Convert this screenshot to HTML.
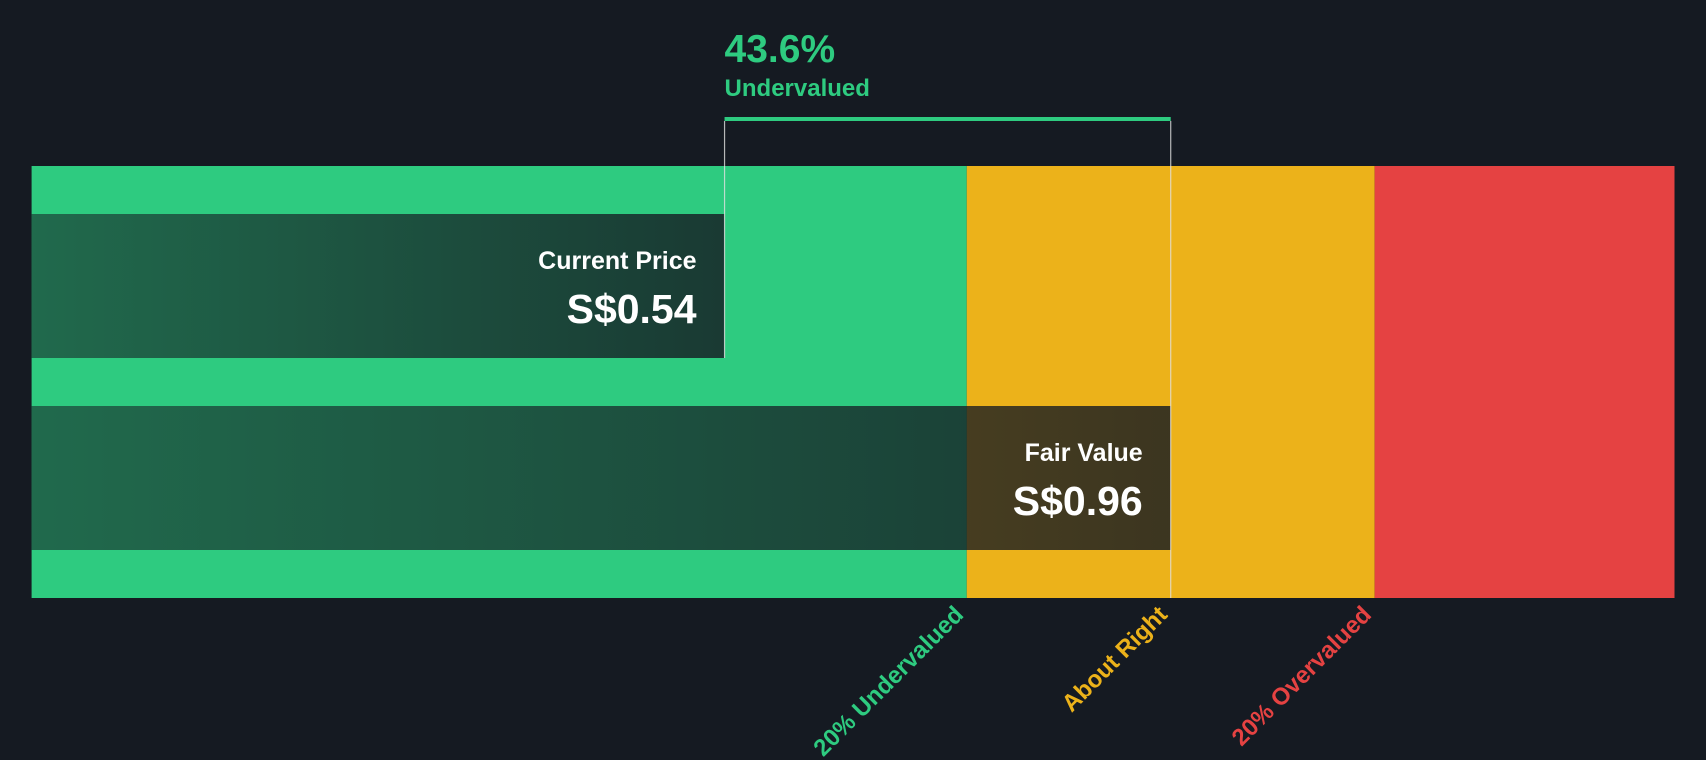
<!DOCTYPE html>
<html><head><meta charset="utf-8"><style>
html,body{margin:0;padding:0;background:#151a22;}
svg{display:block;font-family:"Liberation Sans",sans-serif;}
</style></head><body>
<svg id="chart" width="1706" height="760" viewBox="0 0 1706 760">
<defs>
<linearGradient id="shade" x1="0" x2="1" y1="0" y2="0">
<stop offset="0" stop-color="#151a22" stop-opacity="0.55"/>
<stop offset="1" stop-color="#151a22" stop-opacity="0.82"/>
</linearGradient>
</defs>
<rect x="0" y="0" width="1706" height="760" fill="#151a22"/>
</svg>
<script>
const currentPrice = [0.54];
const fairValue = [0.96];
const discountPct = ["43.6%"];
const zoneLabels = ["20% Undervalued", "About Right", "20% Overvalued"];
const zoneFactors = [0.8, 1.2];

const svg = document.getElementById('chart');
const NS = 'http://www.w3.org/2000/svg';
const fv = fairValue[0], cp = currentPrice[0];
const vMin = fv * -0.117, vMax = fv * 1.494;
const X0 = 31.6, X1 = 1674.5;
function x(v){ return X0 + (v - vMin) / (vMax - vMin) * (X1 - X0); }
function mk(tag, attrs){ const e = document.createElementNS(NS, tag); for (const k in attrs) e.setAttribute(k, attrs[k]); svg.appendChild(e); return e; }

const barTop = 166, barBot = 598;
const z1 = x(fv*zoneFactors[0]), z2 = x(fv*zoneFactors[1]);
let r;
r = mk('rect',{x:X0,y:barTop,width:z1-X0,height:barBot-barTop,fill:'#2ecb80'});
 
r = mk('rect',{x:z1,y:barTop,width:z2-z1,height:barBot-barTop,fill:'#ecb21a'});
 
r = mk('rect',{x:z2,y:barTop,width:X1-z2,height:barBot-barTop,fill:'#e54242'});
 

const xc = x(cp), xf = x(fv);
r = mk('rect',{x:X0,y:214,width:xc-X0,height:144,fill:'url(#shade)'});
 
r = mk('rect',{x:X0,y:406,width:xf-X0,height:144,fill:'url(#shade)'});
 

let l;
l = mk('line',{x1:xc,y1:121,x2:xc,y2:358,stroke:'#e0e0e0','stroke-width':1.2,'stroke-opacity':0.8});
 
l = mk('line',{x1:xf,y1:121,x2:xf,y2:barBot,stroke:'#e0e0e0','stroke-width':1.2,'stroke-opacity':0.8});
 
r = mk('rect',{x:xc,y:117,width:xf-xc,height:4,fill:'#2ecb80'});
 

function txt(s, a){ const t = mk('text', a); t.textContent = s; return t; }
let t;
t = txt(discountPct[0],{x:xc,y:62,fill:'#2ecb80','font-size':39,'font-weight':'bold'});
 
t = txt('Undervalued',{x:xc,y:96,fill:'#2ecb80','font-size':24,'font-weight':'bold'});
 

t = txt('Current Price',{x:xc-28,y:269,fill:'#ffffff','font-size':25,'font-weight':'bold','text-anchor':'end'});
 
t = txt('S$'+cp.toFixed(2),{x:xc-28,y:323,fill:'#ffffff','font-size':41,'font-weight':'bold','text-anchor':'end'});
 
t = txt('Fair Value',{x:xf-28,y:461,fill:'#ffffff','font-size':25,'font-weight':'bold','text-anchor':'end'});
 
t = txt('S$'+fv.toFixed(2),{x:xf-28,y:515,fill:'#ffffff','font-size':41,'font-weight':'bold','text-anchor':'end'});
 

const labelX = [z1, xf, z2];
const labelC = ['#2ecb80','#ecb21a','#e54242'];
const labelN = ['undervalued-axis-label','about-right-axis-label','overvalued-axis-label'];
for (let i=0;i<zoneLabels.length;i++){
  const lx = labelX[i] - 2, ly = 616;
  t = txt(zoneLabels[i],{x:lx,y:ly,fill:labelC[i],'font-size':24,'font-weight':'bold','text-anchor':'end',transform:'rotate(-45 '+lx+' '+ly+')'});
  
  
}
</script>
</body></html>
